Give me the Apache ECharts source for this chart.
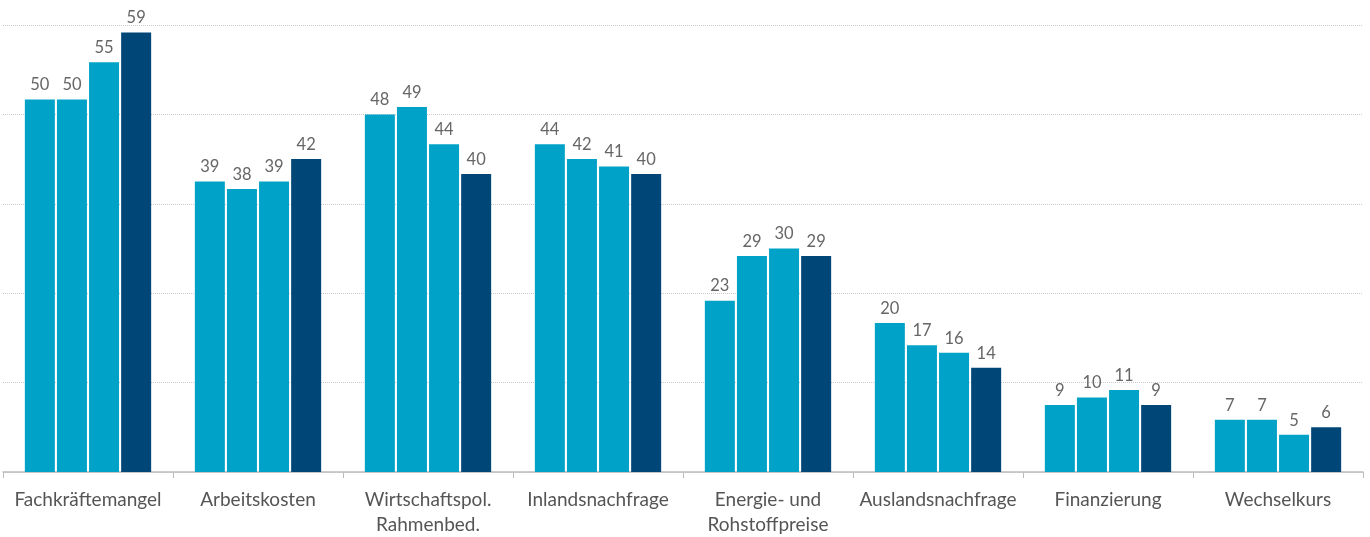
<!DOCTYPE html>
<html>
<head>
<meta charset="utf-8">
<script src="https://cdn.jsdelivr.net/npm/echarts@6/dist/echarts.min.js"></script>
<style>
html,body{margin:0;padding:0;background:#fff;}
#chart{width:1370px;height:537px;}
</style>
</head>
<body>
<div id="chart"></div>
<script>
const categories = ['Fachkräftemangel','Arbeitskosten','Wirtschaftspol.\nRahmenbed.','Inlandsnachfrage','Energie- und\nRohstoffpreise','Auslandsnachfrage','Finanzierung','Wechselkurs'];
const series1 = [50,39,48,44,23,20,9,7];
const series2 = [50,38,49,42,29,17,10,7];
const series3 = [55,39,44,41,30,16,11,5];
const series4 = [59,42,40,40,29,14,9,6];
const seriesNames = ['Umfrage 1','Umfrage 2','Umfrage 3','Umfrage 4'];
const lightBlue = '#00A3C7';
const darkBlue = '#004677';

const chart = echarts.init(document.getElementById('chart'));
const labelStyle = {show:true, position:'top', distance:6, color:'#666', fontSize:16.5, fontFamily:'Lato'};
function mk(name, data, color){
  return {name, type:'bar', data, barWidth:30, barGap:'7%', barCategoryGap:'26%',
    itemStyle:{color}, label:labelStyle};
}
chart.setOption({
  animation:false,
  textStyle:{fontFamily:'Lato'},
  grid:{left:3, right:7, top:25, bottom:63},
  xAxis:{type:'category', data:categories,
    axisLine:{lineStyle:{color:'#bbb', width:1.5}},
    axisTick:{show:true, length:6, lineStyle:{color:'#bbb'}},
    axisLabel:{color:'#555', fontSize:19, fontFamily:'Lato', margin:15, lineHeight:25, interval:0}},
  yAxis:{type:'value', min:0, max:60, interval:12,
    axisLabel:{show:false}, axisLine:{show:false}, axisTick:{show:false},
    splitLine:{lineStyle:{color:'#ccc', type:'dotted', width:1}}},
  series:[mk(seriesNames[0],series1,lightBlue), mk(seriesNames[1],series2,lightBlue),
          mk(seriesNames[2],series3,lightBlue), mk(seriesNames[3],series4,darkBlue)]
});
</script>
</body>
</html>
